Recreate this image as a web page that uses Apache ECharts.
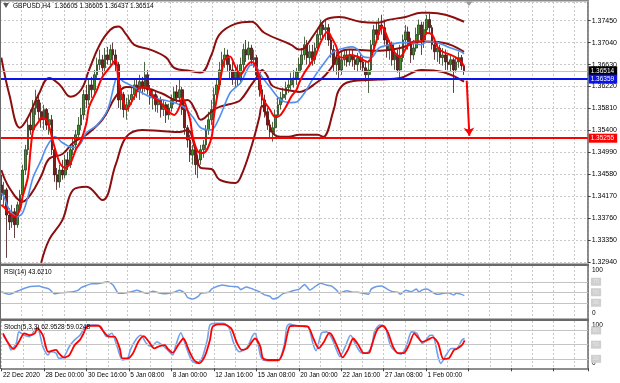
<!DOCTYPE html>
<html><head><meta charset="utf-8">
<script src="https://cdn.jsdelivr.net/npm/echarts@6/dist/echarts.min.js"></script>
<style>html,body{margin:0;padding:0;background:#fff}#c{width:620px;height:383px}</style>
</head><body><div id="c"></div>
<script>
// ---------- DATA ----------
const tickLabels = ['22 Dec 2020','28 Dec 00:00','30 Dec 16:00','5 Jan 08:00','8 Jan 00:00','12 Jan 16:00','15 Jan 08:00','20 Jan 00:00','22 Jan 16:00','27 Jan 08:00','1 Feb 00:00'];
const titleText = 'GBPUSD,H4  1.36605 1.36605 1.36437 1.36514';
const rsiLabel = 'RSI(14) 43.6210';
const stochLabel = 'Stoch(5,3,3) 62.9528 59.0248';
const lastPrice = 1.36514;
const blueLevel = 1.36359;
const redLevel = 1.35255;
const arrowStart = [175, 1.3633];
const arrowEnd = [176, 1.3530];
const rsiLevels = [70, 50, 30];
const stochLevels = [80, 50, 20];

const opens = [1.3438,1.3420,1.3429,1.3382,1.3369,1.3388,1.3364,1.3401,1.3420,1.3466,
1.3504,1.3550,1.3541,1.3582,1.3597,1.3575,1.3560,1.3579,1.3550,1.3560,
1.3504,1.3457,1.3444,1.3466,1.3457,1.3485,1.3476,1.3504,1.3513,1.3532,
1.3550,1.3569,1.3607,1.3597,1.3625,1.3616,1.3644,1.3663,1.3672,1.3657,
1.3681,1.3672,1.3691,1.3681,1.3663,1.3597,1.3607,1.3579,1.3588,1.3597,
1.3607,1.3625,1.3612,1.3631,1.3620,1.3644,1.3616,1.3601,1.3607,1.3588,
1.3597,1.3579,1.3588,1.3569,1.3582,1.3597,1.3612,1.3601,1.3616,1.3579,
1.3545,1.3522,1.3494,1.3504,1.3476,1.3485,1.3504,1.3513,1.3541,1.3560,
1.3579,1.3607,1.3625,1.3653,1.3672,1.3681,1.3663,1.3653,1.3638,1.3649,
1.3635,1.3663,1.3691,1.3681,1.3694,1.3672,1.3676,1.3644,1.3616,1.3597,
1.3575,1.3550,1.3537,1.3545,1.3569,1.3588,1.3601,1.3607,1.3620,1.3625,
1.3635,1.3638,1.3649,1.3663,1.3681,1.3700,1.3676,1.3687,1.3672,1.3694,
1.3719,1.3737,1.3728,1.3732,1.3709,1.3691,1.3663,1.3676,1.3653,1.3672,
1.3681,1.3668,1.3681,1.3672,1.3663,1.3676,1.3668,1.3657,1.3644,1.3653,
1.3700,1.3728,1.3719,1.3737,1.3732,1.3709,1.3691,1.3700,1.3672,1.3681,
1.3653,1.3676,1.3709,1.3724,1.3700,1.3681,1.3694,1.3719,1.3737,1.3709,
1.3728,1.3747,1.3732,1.3700,1.3687,1.3694,1.3676,1.3681,1.3668,1.3663,
1.3672,1.3653,1.3668,1.3676,1.36605];
const closes = [1.3420,1.3429,1.3382,1.3369,1.3388,1.3364,1.3401,1.3420,1.3466,1.3504,
1.3550,1.3541,1.3582,1.3597,1.3575,1.3560,1.3579,1.3550,1.3560,1.3504,
1.3457,1.3444,1.3466,1.3457,1.3485,1.3476,1.3504,1.3513,1.3532,1.3550,
1.3569,1.3607,1.3597,1.3625,1.3616,1.3644,1.3663,1.3672,1.3657,1.3681,
1.3672,1.3691,1.3681,1.3663,1.3597,1.3607,1.3579,1.3588,1.3597,1.3607,
1.3625,1.3612,1.3631,1.3620,1.3644,1.3616,1.3601,1.3607,1.3588,1.3597,
1.3579,1.3588,1.3569,1.3582,1.3597,1.3612,1.3601,1.3616,1.3579,1.3545,
1.3522,1.3494,1.3504,1.3476,1.3485,1.3504,1.3513,1.3541,1.3560,1.3579,
1.3607,1.3625,1.3653,1.3672,1.3681,1.3663,1.3653,1.3638,1.3649,1.3635,
1.3663,1.3691,1.3681,1.3694,1.3672,1.3676,1.3644,1.3616,1.3597,1.3575,
1.3550,1.3537,1.3545,1.3569,1.3588,1.3601,1.3607,1.3620,1.3625,1.3635,
1.3638,1.3649,1.3663,1.3681,1.3700,1.3676,1.3687,1.3672,1.3694,1.3719,
1.3737,1.3728,1.3732,1.3709,1.3691,1.3663,1.3676,1.3653,1.3672,1.3681,
1.3668,1.3681,1.3672,1.3663,1.3676,1.3668,1.3657,1.3644,1.3653,1.3700,
1.3728,1.3719,1.3737,1.3732,1.3709,1.3691,1.3700,1.3672,1.3681,1.3653,
1.3676,1.3709,1.3724,1.3700,1.3681,1.3694,1.3719,1.3737,1.3709,1.3728,
1.3747,1.3732,1.3700,1.3687,1.3694,1.3676,1.3681,1.3668,1.3663,1.3672,
1.3653,1.3668,1.3676,1.3661,1.36514];
const lows = [1.3410,1.3401,1.3302,1.3354,1.3358,1.3339,1.3358,1.3392,1.3410,1.3457,
1.3494,1.3532,1.3532,1.3569,1.3560,1.3545,1.3541,1.3541,1.3532,1.3494,
1.3444,1.3429,1.3433,1.3448,1.3451,1.3466,1.3470,1.3494,1.3504,1.3522,
1.3541,1.3560,1.3582,1.3588,1.3601,1.3607,1.3635,1.3653,1.3644,1.3649,
1.3663,1.3661,1.3668,1.3649,1.3582,1.3579,1.3564,1.3560,1.3575,1.3588,
1.3597,1.3601,1.3597,1.3607,1.3612,1.3607,1.3588,1.3579,1.3575,1.3573,
1.3564,1.3567,1.3554,1.3560,1.3575,1.3588,1.3590,1.3593,1.3569,1.3532,
1.3508,1.3481,1.3476,1.3457,1.3451,1.3476,1.3489,1.3504,1.3532,1.3550,
1.3569,1.3597,1.3616,1.3644,1.3657,1.3649,1.3638,1.3625,1.3620,1.3623,
1.3627,1.3653,1.3668,1.3672,1.3661,1.3657,1.3635,1.3603,1.3588,1.3564,
1.3541,1.3526,1.3519,1.3532,1.3564,1.3579,1.3592,1.3597,1.3610,1.3616,
1.3620,1.3625,1.3638,1.3653,1.3672,1.3663,1.3659,1.3661,1.3664,1.3687,
1.3709,1.3713,1.3709,1.3698,1.3676,1.3649,1.3644,1.3638,1.3644,1.3661,
1.3659,1.3661,1.3659,1.3653,1.3649,1.3653,1.3649,1.3631,1.3610,1.3644,
1.3691,1.3706,1.3709,1.3719,1.3700,1.3676,1.3672,1.3661,1.3653,1.3648,
1.3638,1.3668,1.3700,1.3691,1.3666,1.3672,1.3687,1.3706,1.3681,1.3694,
1.3719,1.3720,1.3691,1.3672,1.3668,1.3664,1.3661,1.3653,1.3653,1.3649,
1.3610,1.3648,1.3657,1.3653,1.36437];
const highs = [1.3457,1.3444,1.3433,1.3395,1.3401,1.3395,1.3407,1.3429,1.3476,1.3513,
1.3564,1.3579,1.3597,1.3616,1.3607,1.3592,1.3588,1.3582,1.3573,1.3569,
1.3513,1.3470,1.3476,1.3485,1.3494,1.3500,1.3513,1.3526,1.3541,1.3565,
1.3582,1.3616,1.3625,1.3638,1.3640,1.3653,1.3676,1.3691,1.3681,1.3694,
1.3696,1.3700,1.3704,1.3691,1.3668,1.3625,1.3612,1.3601,1.3607,1.3620,
1.3638,1.3635,1.3644,1.3640,1.3668,1.3653,1.3625,1.3616,1.3612,1.3605,
1.3603,1.3597,1.3593,1.3590,1.3607,1.3621,1.3625,1.3635,1.3621,1.3588,
1.3550,1.3532,1.3513,1.3508,1.3494,1.3513,1.3522,1.3550,1.3575,1.3597,
1.3620,1.3635,1.3668,1.3687,1.3694,1.3691,1.3676,1.3668,1.3661,1.3663,
1.3676,1.3702,1.3709,1.3706,1.3700,1.3691,1.3681,1.3653,1.3625,1.3607,
1.3582,1.3560,1.3556,1.3579,1.3601,1.3612,1.3620,1.3631,1.3638,1.3648,
1.3653,1.3657,1.3676,1.3694,1.3715,1.3709,1.3700,1.3700,1.3704,1.3728,
1.3747,1.3743,1.3747,1.3739,1.3719,1.3700,1.3687,1.3691,1.3687,1.3691,
1.3691,1.3691,1.3691,1.3681,1.3685,1.3685,1.3678,1.3668,1.3672,1.3709,
1.3737,1.3743,1.3750,1.3756,1.3747,1.3715,1.3709,1.3706,1.3694,1.3691,
1.3700,1.3719,1.3737,1.3734,1.3713,1.3709,1.3732,1.3747,1.3743,1.3743,
1.3756,1.3758,1.3737,1.3709,1.3704,1.3700,1.3694,1.3691,1.3681,1.3681,
1.3676,1.3678,1.3687,1.3681,1.36605];

// fast MA (red) [bar, price]
const redMA = [[0,1.3401],[1,1.3397],[3,1.3386],[5,1.3379],[7,1.3392],[8,1.3416],[10,1.3453],[11,1.3504],[12,1.3541],[14,1.3556],[15,1.3564],[17,1.3560],[18,1.3547],[20,1.3509],[22,1.3479],[24,1.3470],[26,1.3479],[28,1.3504],[30,1.3522],[32,1.3554],[33,1.3584],[36,1.3616],[38,1.3640],[41,1.3659],[43,1.3672],[44,1.3635],[46,1.3592],[47,1.3579],[50,1.3603],[52,1.3620],[55,1.3620],[57,1.3603],[60,1.3592],[62,1.3579],[65,1.3569],[67,1.3584],[68,1.3601],[69,1.3592],[71,1.3560],[72,1.3528],[74,1.3500],[76,1.3498],[79,1.3526],[80,1.3569],[82,1.3625],[84,1.3672],[86,1.3678],[88,1.3659],[90,1.3644],[92,1.3659],[94,1.3668],[95,1.3666],[97,1.3640],[98,1.3603],[101,1.3579],[103,1.3565],[105,1.3569],[107,1.3584],[109,1.3603],[111,1.3616],[112,1.3629],[114,1.3648],[116,1.3663],[118,1.3678],[120,1.3704],[122,1.3722],[123,1.3724],[124,1.3715],[126,1.3696],[127,1.3678],[129,1.3676],[131,1.3681],[134,1.3678],[136,1.3672],[138,1.3668],[140,1.3691],[142,1.3722],[143,1.3734],[144,1.3728],[146,1.3704],[148,1.3685],[150,1.3678],[153,1.3700],[155,1.3706],[158,1.3706],[160,1.3722],[162,1.3719],[164,1.3696],[166,1.3687],[169,1.3681],[171,1.3676],[173,1.3668],[174,1.3659]];
// slow MA (blue)
const blueMA = [[0,1.3423],[1,1.3416],[3,1.3392],[6,1.3379],[8,1.3386],[10,1.3416],[12,1.3453],[15,1.3485],[17,1.3509],[20,1.3528],[21,1.3526],[23,1.3517],[26,1.3509],[28,1.3508],[30,1.3517],[32,1.3536],[36,1.3550],[40,1.3579],[43,1.3635],[44,1.3638],[46,1.3631],[50,1.3621],[53,1.3610],[57,1.3601],[61,1.3597],[65,1.3592],[69,1.3582],[72,1.3565],[75,1.3545],[79,1.3541],[82,1.3564],[86,1.3610],[90,1.3629],[94,1.3663],[95,1.3663],[98,1.3640],[101,1.3621],[105,1.3597],[109,1.3592],[111,1.3593],[114,1.3610],[117,1.3635],[121,1.3663],[125,1.3687],[129,1.3694],[132,1.3696],[134,1.3691],[136,1.3678],[139,1.3676],[142,1.3694],[146,1.3700],[150,1.3704],[154,1.3704],[158,1.3700],[160,1.3706],[164,1.3704],[169,1.3694],[173,1.3687],[174,1.3683]];
// Bollinger bands
const bbUpper = [[0,1.3676],[3,1.3607],[7,1.3545],[10,1.3564],[14,1.3607],[18,1.3638],[22,1.3625],[26,1.3603],[30,1.3616],[33,1.3653],[37,1.3700],[41,1.3728],[44,1.3734],[47,1.3719],[50,1.3700],[56,1.3691],[62,1.3676],[65,1.3657],[71,1.3651],[75,1.3648],[79,1.3681],[82,1.3719],[88,1.3739],[94,1.3743],[99,1.3722],[109,1.3700],[112,1.3691],[114,1.3694],[118,1.3722],[122,1.3747],[127,1.3752],[135,1.3743],[141,1.3741],[146,1.3747],[152,1.3752],[158,1.3760],[161,1.3760],[167,1.3756],[174,1.3743]];
const bbMiddle = [[0,1.3466],[3,1.3433],[8,1.3407],[11,1.3420],[15,1.3455],[18,1.3487],[23,1.3496],[27,1.3517],[32,1.3532],[38,1.3560],[43,1.3603],[47,1.3621],[53,1.3620],[60,1.3610],[67,1.3595],[70,1.3597],[73,1.3577],[75,1.3560],[79,1.3575],[82,1.3584],[88,1.3592],[90,1.3597],[94,1.3625],[97,1.3646],[98,1.3653],[100,1.3642],[102,1.3623],[109,1.3614],[112,1.3612],[119,1.3631],[122,1.3644],[125,1.3664],[127,1.3685],[131,1.3691],[142,1.3689],[150,1.3694],[158,1.3706],[166,1.3704],[174,1.3687]];
const bbLower = [[15,1.3293],[18,1.3336],[23,1.3373],[27,1.3429],[32,1.3435],[38,1.3410],[43,1.3476],[47,1.3528],[53,1.3541],[60,1.3539],[67,1.3537],[70,1.3541],[73,1.3504],[75,1.3470],[79,1.3468],[82,1.3448],[88,1.3442],[90,1.3453],[94,1.3509],[97,1.3564],[98,1.3586],[100,1.3564],[102,1.3536],[105,1.3528],[108,1.3528],[112,1.3532],[119,1.3532],[121,1.3528],[125,1.3579],[127,1.3616],[131,1.3631],[142,1.3635],[150,1.3638],[158,1.3653],[166,1.3649],[174,1.3631]];

const rsiPts = [[0,51],[3,46],[5,50],[7,54],[9,58],[11,61],[14,62],[16,59],[18,56],[20,47],[22,49],[25,50],[27,51],[29,54],[30,59],[32,63],[34,66],[36,66],[38,68],[40,70],[42,64],[44,48],[46,48],[47,49],[49,51],[51,54],[53,50],[55,48],[57,52],[59,49],[61,47],[63,48],[65,50],[67,54],[69,48],[70,40],[72,37],[74,42],[75,48],[78,50],[79,56],[81,61],[83,64],[85,62],[87,61],[89,60],[90,55],[92,60],[94,57],[95,55],[97,51],[99,45],[101,42],[102,37],[104,40],[106,48],[108,50],[109,52],[112,56],[113,61],[114,65],[116,54],[118,61],[120,67],[122,64],[124,62],[126,54],[127,48],[129,52],[130,53],[132,50],[134,50],[136,48],[138,46],[139,56],[141,61],[143,62],[145,56],[147,51],[149,50],[150,46],[152,54],[154,51],[156,56],[157,50],[158,54],[160,56],[162,50],[164,46],[166,48],[168,49],[170,45],[171,48],[173,46],[174,43.62]];
const stochMain = [[0,70],[2,53],[3,39],[5,53],[6,77],[8,70],[10,67],[12,81],[13,85],[14,70],[15,46],[17,28],[18,35],[20,32],[21,21],[23,24.5],[25,46],[27,60],[29,70],[31,88],[32,91.5],[35,91.5],[37,88],[39,67],[41,74],[43,46],[45,17.5],[47,21],[48,39],[50,60],[52,70],[54,53],[56,46],[58,56],[60,49],[62,39],[64,28],[65,46],[67,75],[69,46],[71,17.5],[73,10.5],[75,21],[77,60],[78,91.5],[80,95],[83,95],[85,88],[87,53],[89,35],[92,44],[94,68],[95,74],[96,56],[97,28],[98,17.5],[101,16],[104,17.5],[106,49],[107,88],[108,93.6],[111,89.4],[113,89.4],[115,88],[117,49],[118,37],[120,74],[122,77],[124,63],[126,35],[127,24.5],[129,46],[131,70],[133,49],[135,33],[137,32],[139,46],[140,77],[142,91.5],[144,88],[146,49],[148,35],[150,30],[152,46],[154,77],[156,74],[158,53],[159,56],[161,70],[162,70],[164,24.5],[165,10.5],[167,28],[169,42],[171,42],[173,60],[174,62.95]];
const stochSignal = [[0,74],[2,53],[4,41],[6,56],[8,74],[10,70],[12,74],[13,85],[15,70],[16,49],[17,35],[20,39],[21,32],[23,22.5],[25,28],[27,49],[29,60],[30,70],[32,89.5],[34,90],[36,90],[38,77],[40,67],[42,67],[44,42],[45,21],[47,21],[49,32],[51,56],[53,68],[55,56],[57,42],[59,47],[61,49],[62,42],[64,33],[66,49],[68,63],[70,39],[72,17.5],[74,10.5],[76,24.5],[78,60],[79,88],[81,93],[83,93],[86,84.5],[88,56],[90,39],[92,42],[95,63],[97,46],[98,21],[101,17.5],[104,17.5],[106,42],[108,88],[110,90],[113,89],[115,88],[117,63],[119,42],[121,56],[123,75],[124,70],[126,46],[128,23],[130,39],[132,63],[134,49],[136,32],[138,33],[139,49],[141,81],[143,90],[145,77],[147,46],[149,32],[151,32],[153,49],[155,74],[156,68],[158,56],[160,60],[162,65.5],[164,53],[166,19.6],[168,21],[170,39],[171,41],[173,49],[174,59.02]];

// ---------- CHART ----------
const FONT = "'Liberation Sans', Arial, sans-serif";
const NSLOTS = 221;
const cats = Array.from({length: NSLOTS}, (_, i) => String(i));
const candles = opens.map((o, i) => [o, closes[i], lows[i], highs[i]]);
const vGrid = {show: true, interval: (i) => i % 8 === 0, lineStyle: {color: '#c8c8c8', type: [2, 2], width: 1}};
const BB_COLOR = '#8b0f0f';

function xAx(g, labels) {
  return {
    type: 'category', gridIndex: g, data: cats, boundaryGap: true,
    axisLine: {show: labels, lineStyle: {color: '#6a6a6a', width: 1.5}},
    axisTick: {show: labels, interval: (i) => i % 16 === 0, length: 3, lineStyle: {color: '#404040'}},
    axisLabel: {show: labels, interval: (i) => i % 16 === 0, formatter: (v, i) => tickLabels[i / 16] || '',
      align: 'left', fontSize: 6.5, color: '#000', margin: 3, fontFamily: FONT},
    splitLine: vGrid
  };
}
function subY(g) {
  return {
    type: 'value', gridIndex: g, position: 'right', min: 0, max: 100, interval: 100,
    axisLine: {show: true, lineStyle: {color: '#6a6a6a', width: 1.5}},
    axisTick: {show: false},
    axisLabel: {fontSize: 6.5, color: '#000', margin: 4, fontFamily: FONT,
      formatter: (v) => v === 100 ? '{a|100}' : '{b|0}',
      rich: {a: {fontSize: 6.5, padding: [9, 0, 0, 0]}, b: {fontSize: 6.5, padding: [0, 0, 10, 0]}}},
    splitLine: {show: false}
  };
}
function levelLines(levels) {
  return {
    symbol: 'none', silent: true, animation: false,
    lineStyle: {color: '#c4c4c4', width: 1, type: 'solid'},
    label: {show: true, position: 'end', distance: 3, formatter: (p) => String(p.value),
      backgroundColor: '#cfcfcf', color: '#e6e6e6', fontSize: 5.5, padding: [1, 2], fontFamily: FONT},
    data: levels.map((v) => ({yAxis: v}))
  };
}
function priceTag(bg) {
  return {show: true, position: 'end', distance: 1, formatter: (p) => p.value.toFixed(5),
    backgroundColor: bg, color: '#fff', fontSize: 6.5, padding: [1, 3, 1, 2], fontFamily: FONT};
}
function bbSeries(data) {
  return {type: 'line', xAxisIndex: 0, yAxisIndex: 0, data: data, smooth: 0.4, symbol: 'none', z: 3,
    lineStyle: {color: BB_COLOR, width: 2}};
}

const upperSeries = bbSeries(bbUpper);
upperSeries.markLine = {silent: true, animation: false, symbol: ['none', 'arrow'], symbolSize: 8,
  lineStyle: {color: '#ff0000', width: 2, type: 'solid'}, label: {show: false},
  data: [[{coord: arrowStart}, {coord: arrowEnd}]]};

const option = {
  animation: false,
  backgroundColor: '#fff',
  grid: [
    {left: 0, top: 2, width: 588, height: 260.15},
    {left: 0, top: 266, width: 588, height: 52.5},
    {left: 0, top: 321, width: 588, height: 47.3}
  ],
  xAxis: [xAx(0, false), xAx(1, false), xAx(2, true)],
  yAxis: [
    {type: 'value', gridIndex: 0, position: 'right', min: 1.3294, max: 1.37799, interval: 0.0041,
     axisLine: {show: true, lineStyle: {color: '#6a6a6a', width: 1.5}},
     axisTick: {show: true, length: 3, lineStyle: {color: '#404040'}},
     axisLabel: {formatter: (v) => v.toFixed(5), fontSize: 7, color: '#000', margin: 4, fontFamily: FONT, showMaxLabel: false},
     splitLine: {show: true, lineStyle: {color: '#c8c8c8', type: [2, 2], width: 1}}},
    subY(1), subY(2)
  ],
  series: [
    {type: 'candlestick', xAxisIndex: 0, yAxisIndex: 0, data: candles, barWidth: 2.2, z: 2,
     itemStyle: {color: '#3f8f2c', color0: '#7e1b1b', borderColor: '#23401a', borderColor0: '#3e1010', borderWidth: 0.8},
     markLine: {symbol: 'none', silent: true, animation: false, precision: 5,
       data: [
         {yAxis: lastPrice, lineStyle: {color: '#c0c0c0', width: 1, type: 'solid'}, label: priceTag('#000')},
         {yAxis: blueLevel, lineStyle: {color: '#0a14e6', width: 2, type: 'solid'}, label: priceTag('#0a14e6')},
         {yAxis: redLevel, lineStyle: {color: '#ff0000', width: 2, type: 'solid'}, label: priceTag('#ff0000')}
       ]}},
    upperSeries,
    bbSeries(bbMiddle),
    bbSeries(bbLower),
    {type: 'line', xAxisIndex: 0, yAxisIndex: 0, data: blueMA, smooth: 0.3, symbol: 'none', z: 4,
     lineStyle: {color: '#4f8ff0', width: 1.6}},
    {type: 'line', xAxisIndex: 0, yAxisIndex: 0, data: redMA, smooth: 0.3, symbol: 'none', z: 5,
     lineStyle: {color: '#ff0000', width: 2}},
    {type: 'line', xAxisIndex: 1, yAxisIndex: 1, data: rsiPts, smooth: 0.15, symbol: 'none', z: 4,
     lineStyle: {color: '#6c9be8', width: 1.5}, markLine: levelLines(rsiLevels)},
    {type: 'line', xAxisIndex: 2, yAxisIndex: 2, data: stochMain, smooth: 0.25, symbol: 'none', z: 4,
     lineStyle: {color: '#6fa2ee', width: 1.6}, markLine: levelLines(stochLevels)},
    {type: 'line', xAxisIndex: 2, yAxisIndex: 2, data: stochSignal, smooth: 0.25, symbol: 'none', z: 5,
     lineStyle: {color: '#ff0000', width: 1.8}}
  ],
  graphic: [
    {type: 'rect', shape: {x: 0, y: 0, width: 589, height: 1.5}, style: {fill: '#8a8a8a'}, z: 100},
    {type: 'rect', shape: {x: 0, y: 263.5, width: 589, height: 2.5}, style: {fill: '#6a6a6a'}, z: 100},
    {type: 'rect', shape: {x: 0, y: 318.5, width: 589, height: 2.5}, style: {fill: '#6a6a6a'}, z: 100},
    {type: 'rect', shape: {x: 0, y: 0, width: 1, height: 369}, style: {fill: '#6a6a6a'}, z: 100},
    {type: 'polygon', shape: {points: [[3, 3], [9, 3], [6, 8]]}, style: {fill: '#5a5a5a'}, z: 100},
    {type: 'polygon', shape: {points: [[465.5, 1.5], [472.5, 1.5], [469, 6]]}, style: {fill: '#9a9a9a'}, z: 100},
    {type: 'text', left: 13, top: 2.5, z: 100, style: {text: titleText, fill: '#000', font: '6.5px ' + FONT}},
    {type: 'text', left: 4, top: 269, z: 100, style: {text: rsiLabel, fill: '#000', font: '6.5px ' + FONT}},
    {type: 'text', left: 4, top: 323.5, z: 100, style: {text: stochLabel, fill: '#000', font: '6.5px ' + FONT}}
  ]
};
const chart = echarts.init(document.getElementById('c'), null, {renderer: 'canvas'});
chart.setOption(option);
</script></body></html>
